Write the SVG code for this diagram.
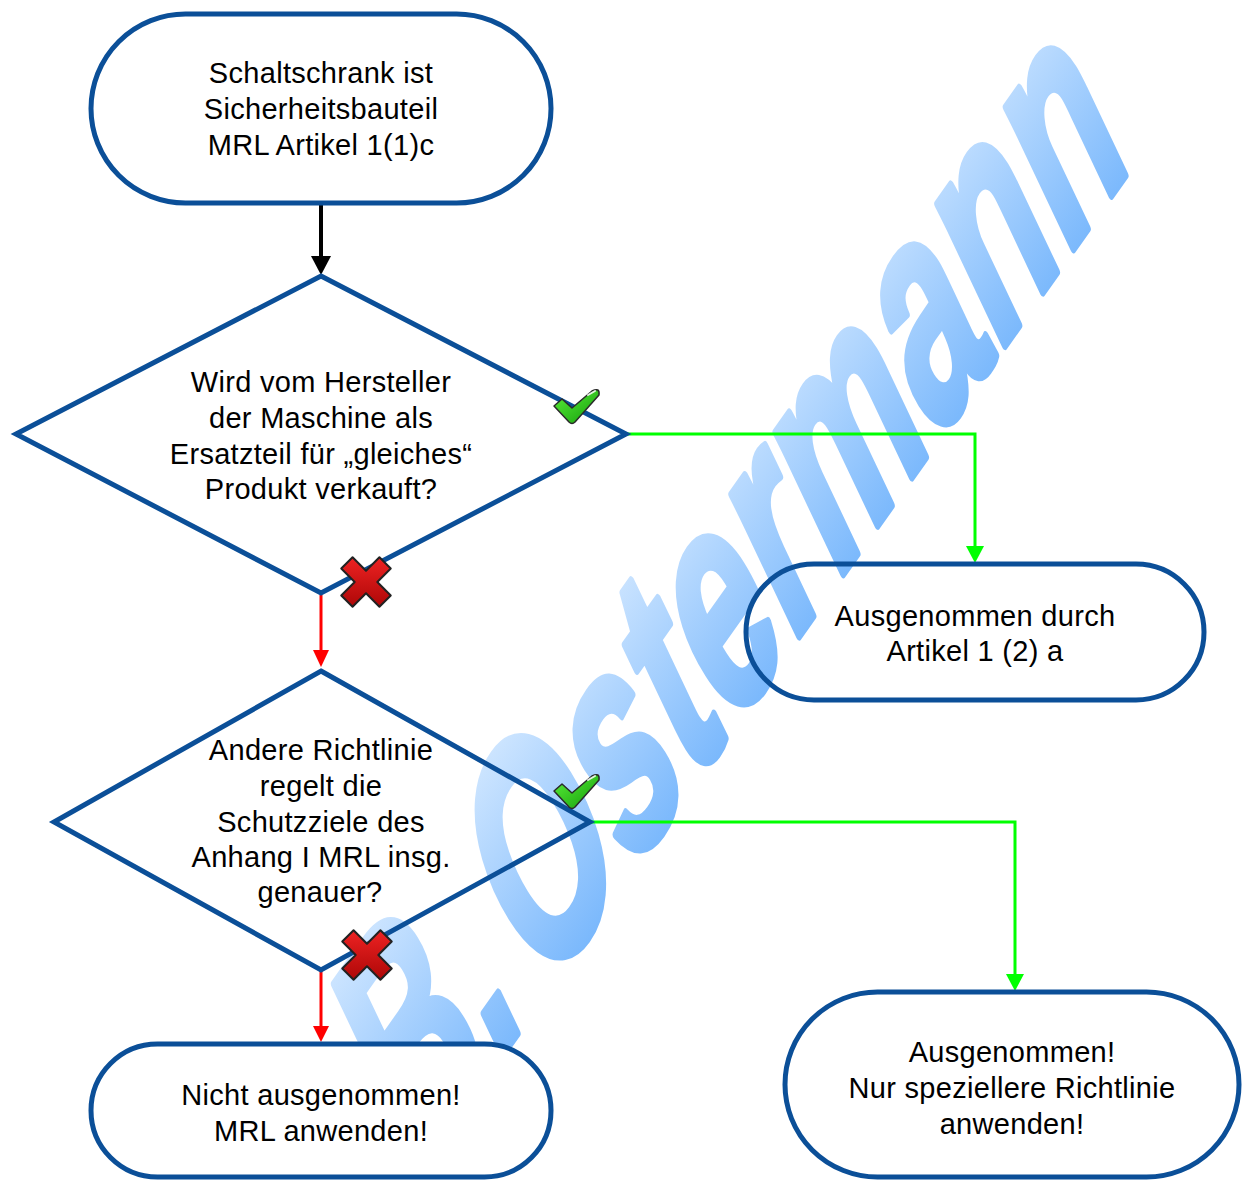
<svg xmlns="http://www.w3.org/2000/svg" width="1242" height="1180" viewBox="0 0 1242 1180">
<style>
.node{fill:none;stroke:#0b4f98;stroke-width:5;stroke-linejoin:miter}
.lbl{font-family:"Liberation Sans",Arial,sans-serif;font-size:29px;fill:#000;text-anchor:middle;letter-spacing:0.3px}
.wm{font-family:"Liberation Sans",Arial,sans-serif;font-size:200px;font-weight:bold;font-style:italic;letter-spacing:2px;fill:url(#wmg);stroke:url(#wmg);stroke-width:6;stroke-linejoin:round}
.cg{fill:none;stroke:#00ff00;stroke-width:3}
.cr{fill:none;stroke:#ff0000;stroke-width:3}
.ck{fill:none;stroke:#000;stroke-width:4}
</style>
<defs>
<linearGradient id="wmg" x1="0" y1="0" x2="0" y2="1">
<stop offset="0.15" stop-color="#cfe6ff"/>
<stop offset="0.85" stop-color="#78b7fc"/>
</linearGradient>
<linearGradient id="chk" x1="0" y1="0" x2="1" y2="1">
<stop offset="0" stop-color="#5cf03a"/>
<stop offset="1" stop-color="#129c0a"/>
</linearGradient>
<linearGradient id="crs" x1="0" y1="0" x2="1" y2="1">
<stop offset="0" stop-color="#ff2a2a"/>
<stop offset="1" stop-color="#9c0000"/>
</linearGradient>
<g id="check">
<path d="M -23 -1 L -15 -8 L -5 1 L 15 -16 Q 23 -20 22 -12 L -2 15 Q -5 18 -8 15 Z" fill="url(#chk)" stroke="#2a2a2a" stroke-width="1.5" stroke-linejoin="round"/>
<path d="M 11 -12 L 18 -16" stroke="#ffffff" stroke-width="2" stroke-linecap="round" opacity="0.85"/>
</g>
<g id="cross">
<path d="M -8 -27 H 8 V -8 H 27 V 8 H 8 V 27 H -8 V 8 H -27 V -8 H -8 Z" transform="rotate(45)" fill="url(#crs)" stroke="#222" stroke-width="2" stroke-linejoin="round"/>
</g>
</defs>
<rect width="1242" height="1180" fill="#ffffff"/>
<text class="wm" x="0" y="0" transform="matrix(0.552 -0.779 0.742 1.187 419 1172)">B.<tspan dx="-30"> Ostermann</tspan></text>

<g id="connectors">
<line class="ck" x1="321" y1="205" x2="321" y2="258"/>
<polygon points="311,256 331,256 321,275" fill="#000"/>
<polyline class="cg" points="626,434 975,434 975,548"/>
<polygon points="966,546 984,546 975,563" fill="#00ff00"/>
<line class="cr" x1="321" y1="595" x2="321" y2="652"/>
<polygon points="313,650 329,650 321,667" fill="#ff0000"/>
<polyline class="cg" points="590,822 1015,822 1015,976"/>
<polygon points="1006,974 1024,974 1015,991" fill="#00ff00"/>
<line class="cr" x1="321" y1="970" x2="321" y2="1028"/>
<polygon points="313,1026 329,1026 321,1042" fill="#ff0000"/>
</g>

<g id="n1">
<rect class="node" x="91" y="14" width="460" height="189" rx="94.5"/>
<text class="lbl" x="321" y="83">Schaltschrank ist</text>
<text class="lbl" x="321" y="119">Sicherheitsbauteil</text>
<text class="lbl" x="321" y="155">MRL Artikel 1(1)c</text>
</g>
<g id="d1">
<polygon class="node" points="321,276 626,434 321,593 16,434"/>
<text class="lbl" x="321" y="392">Wird vom Hersteller</text>
<text class="lbl" x="321" y="428">der Maschine als</text>
<text class="lbl" x="321" y="464">Ersatzteil für „gleiches“</text>
<text class="lbl" x="321" y="499">Produkt verkauft?</text>
</g>
<g id="n2">
<rect class="node" x="746" y="564" width="458" height="136" rx="68"/>
<text class="lbl" x="975" y="626">Ausgenommen durch</text>
<text class="lbl" x="975" y="661">Artikel 1 (2) a</text>
</g>
<g id="d2">
<polygon class="node" points="321,671 590,822 321,970 54,822"/>
<text class="lbl" x="321" y="760">Andere Richtlinie</text>
<text class="lbl" x="321" y="796">regelt die</text>
<text class="lbl" x="321" y="832">Schutzziele des</text>
<text class="lbl" x="321" y="867">Anhang I MRL insg.</text>
<text class="lbl" x="320" y="902">genauer?</text>
</g>
<g id="n3">
<rect class="node" x="91" y="1044" width="460" height="133" rx="66.5" style="fill:#ffffff"/>
<text class="lbl" x="321" y="1105">Nicht ausgenommen!</text>
<text class="lbl" x="321" y="1141">MRL anwenden!</text>
</g>
<g id="n4">
<rect class="node" x="785" y="992" width="454" height="185" rx="92.5"/>
<text class="lbl" x="1012" y="1062">Ausgenommen!</text>
<text class="lbl" x="1012" y="1098">Nur speziellere Richtlinie</text>
<text class="lbl" x="1012" y="1134">anwenden!</text>
</g>

<g id="marks">
<use href="#check" x="577" y="407"/>
<use href="#check" x="577" y="792"/>
<use href="#cross" x="366" y="582"/>
<use href="#cross" x="367" y="955"/>
</g>
</svg>
